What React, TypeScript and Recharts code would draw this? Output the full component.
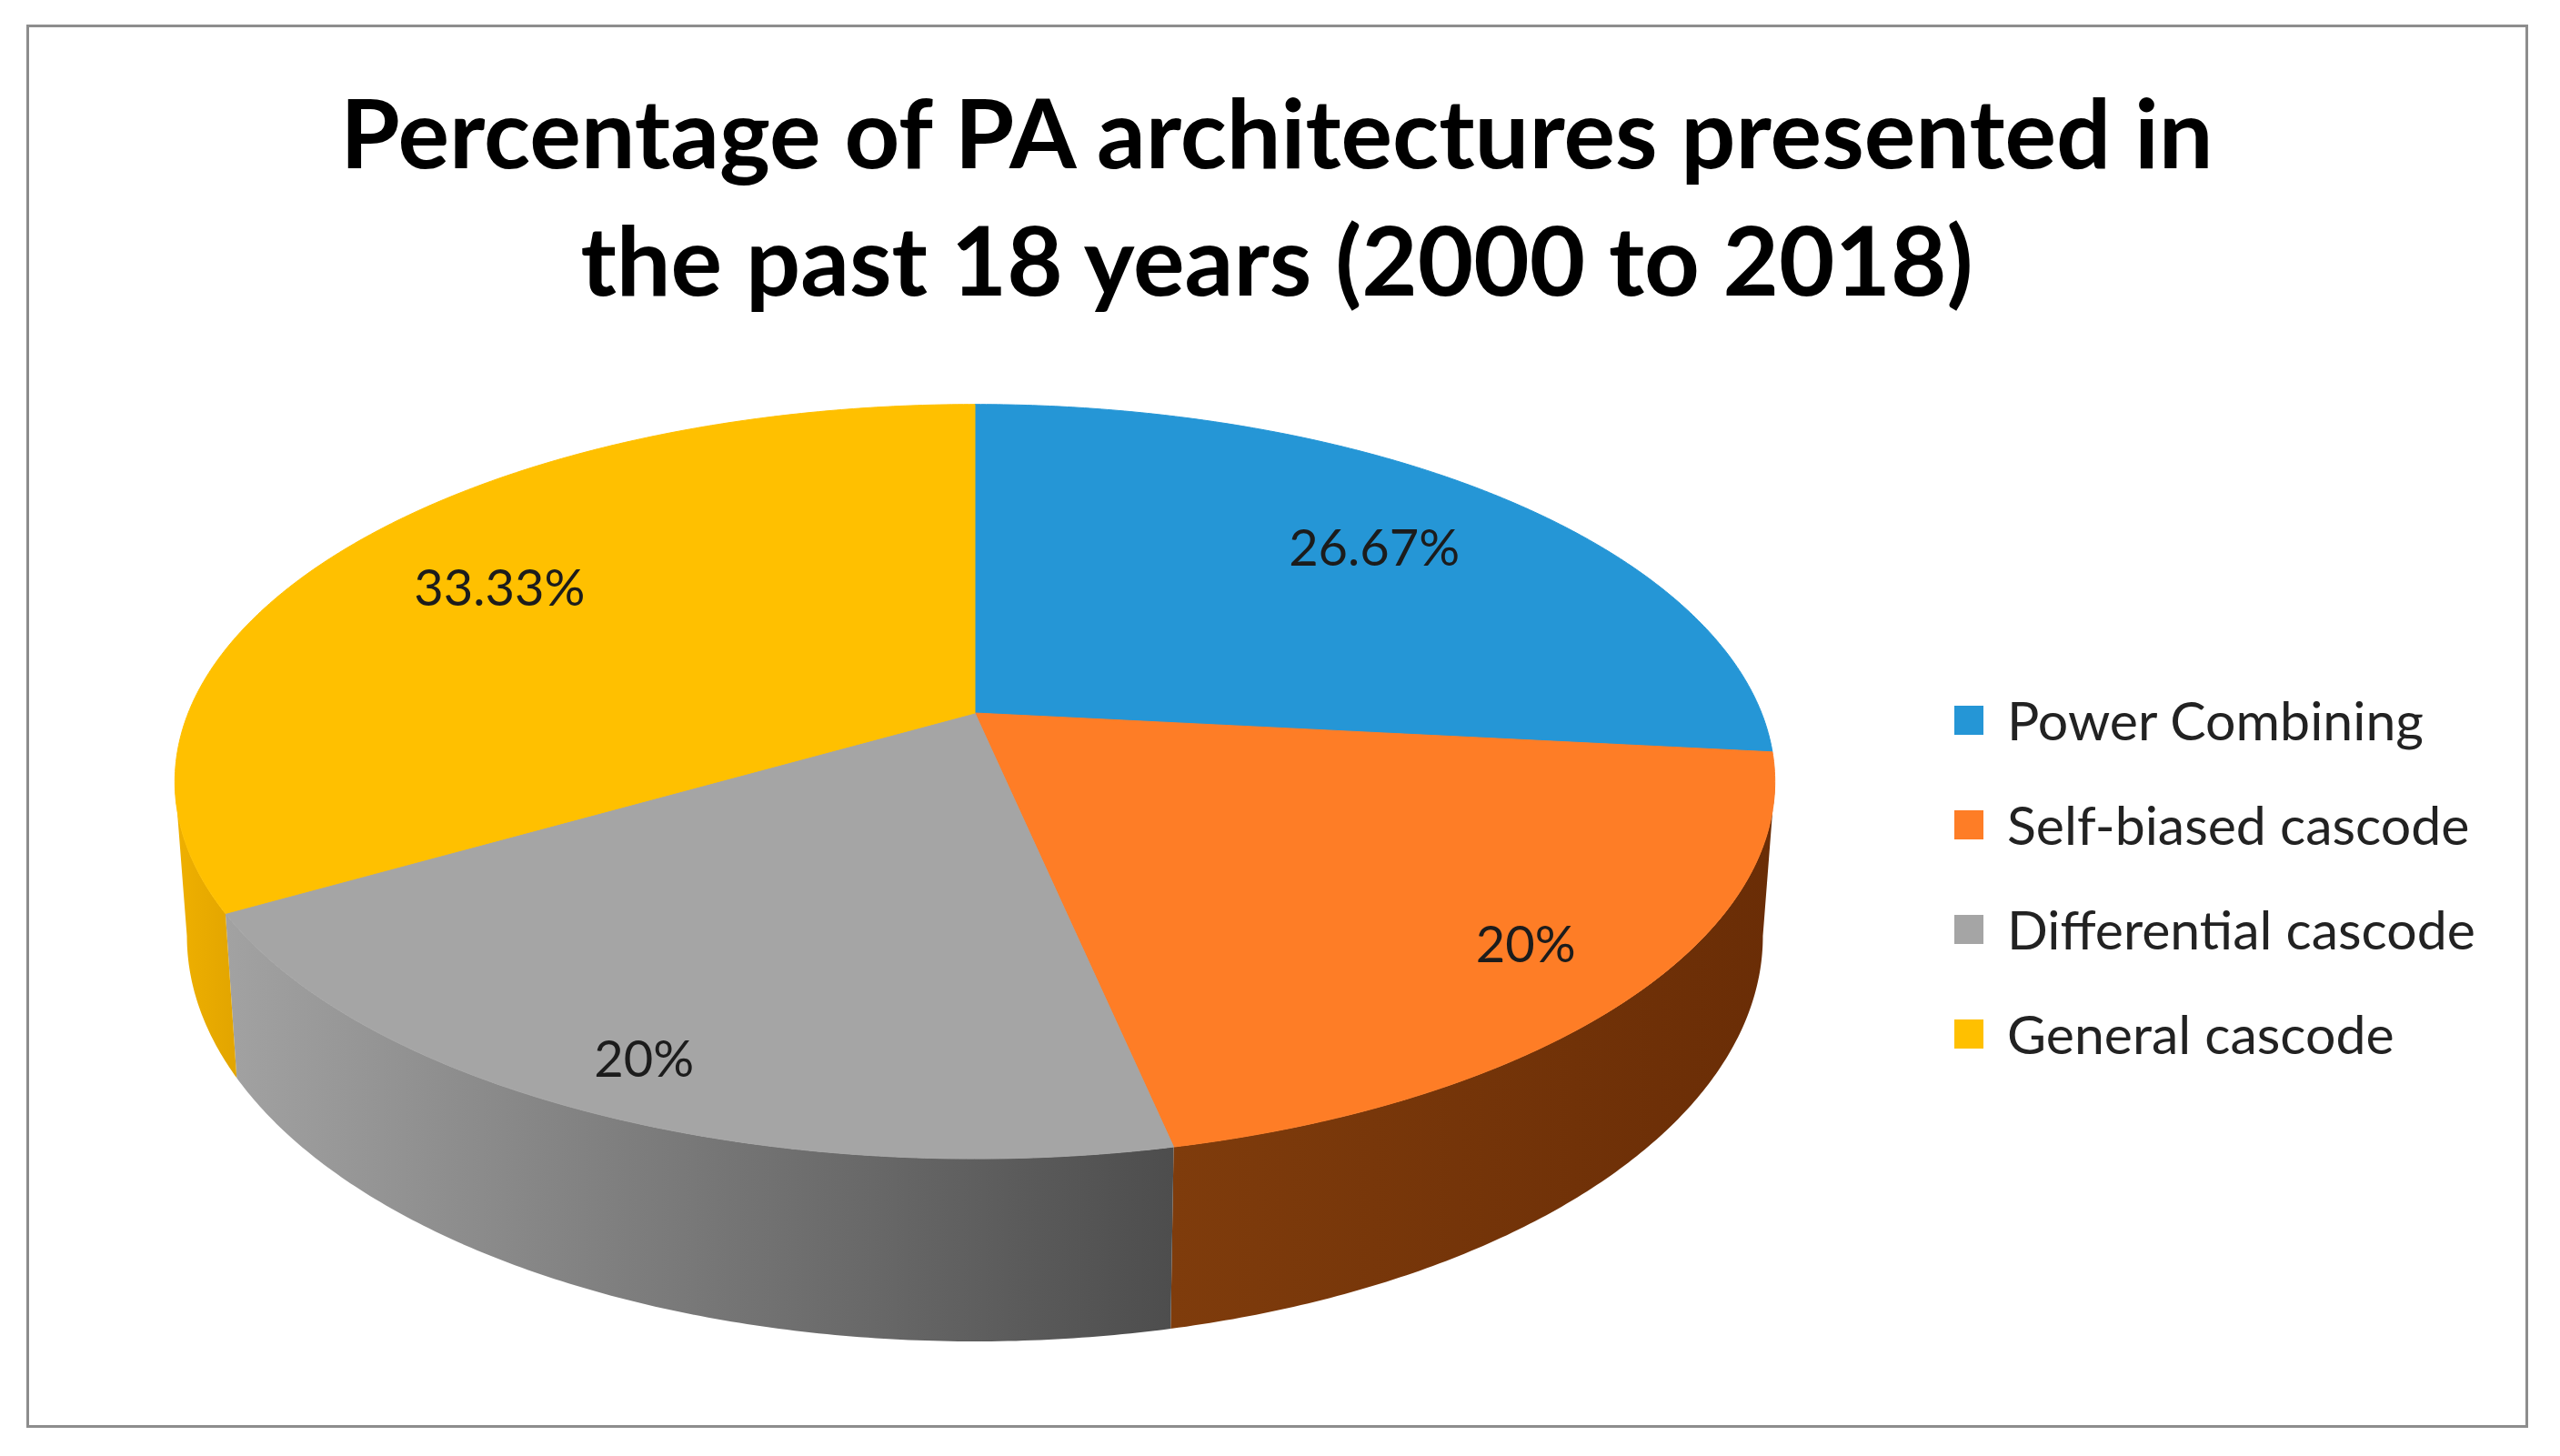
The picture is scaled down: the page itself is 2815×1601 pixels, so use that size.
import { PieChart, Pie, Cell, Legend } from "recharts"

// Excel-style 3D pie (perspective), values as printed on the slices.
const categories = [
  "Power Combining",
  "Self-biased cascode",
  "Differential cascode",
  "General cascode",
]
const shares = [26.67, 20, 20, 33.33]

const TOP_COLORS = ["#2596d6", "#fe7d26", "#a5a5a5", "#ffc000"]
// side walls: [left stop, right stop]
const SIDE_COLORS = [
  ["#1d6f9e", "#175a82"],
  ["#7f3c0c", "#6a2d06"],
  ["#a2a2a2", "#4d4d4d"],
  ["#efb000", "#e2a500"],
]

const TITLE = [
  "Percentage of PA architectures presented in",
  "the past 18 years (2000 to 2018)",
]

const data = categories.map((name, i) => ({ name, value: shares[i] }))

const W = 2815
const H = 1601
const CX = 1072
const CY = 784
const R = 865

// projection of the tilted disc
const TILT = 0.4636
const PERSP = 0.1818
const DEPTH = 0.19
const SHRINK = 0.985
const RAD = Math.PI / 180

function proj(cx: number, cy: number, radius: number, frac: number, deg: number) {
  const u = frac * Math.cos(deg * RAD)
  const v = -frac * Math.sin(deg * RAD)
  const w = 1 - PERSP * v
  return { x: cx + (radius * u) / w, y: cy + (radius * TILT * v) / w, w }
}

function arcPts(cx: number, cy: number, radius: number, a0: number, a1: number) {
  const n = Math.max(2, Math.ceil(Math.abs(a1 - a0) * 2))
  const pts = []
  for (let i = 0; i <= n; i++) pts.push(proj(cx, cy, radius, 1, a0 + ((a1 - a0) * i) / n))
  return pts
}

function TopFace(props: any) {
  const { cx, cy, outerRadius, startAngle, endAngle, fill } = props
  const pts = arcPts(cx, cy, outerRadius, startAngle, endAngle)
  const d = `M${cx},${cy}` + pts.map((p) => `L${p.x},${p.y}`).join("") + "Z"
  return <path d={d} fill={fill} stroke={fill} strokeWidth={1} />
}

// silhouette of the disc: only this angular range shows its side
const VIS_HI = -Math.asin(PERSP) / RAD
const VIS_LO = -180 - VIS_HI

function SideWall(props: any) {
  const { cx, cy, outerRadius, startAngle, endAngle, index } = props
  const hi = Math.min(Math.max(startAngle, endAngle), VIS_HI)
  const lo = Math.max(Math.min(startAngle, endAngle), VIS_LO)
  if (hi <= lo) return <g />
  const top = arcPts(cx, cy, outerRadius, hi, lo)
  const bottom = top
    .map((p) => ({ x: cx + (p.x - cx) * SHRINK, y: p.y + (outerRadius * DEPTH) / p.w }))
    .reverse()
  const d =
    top.map((p, i) => `${i ? "L" : "M"}${p.x},${p.y}`).join("") +
    bottom.map((p) => `L${p.x},${p.y}`).join("") +
    "Z"
  const id = `side-grad-${index}`
  const [c0, c1] = SIDE_COLORS[index % SIDE_COLORS.length]
  return (
    <g>
      <defs>
        <linearGradient id={id} x1="0" y1="0" x2="1" y2="0">
          <stop offset="0%" stopColor={c0} />
          <stop offset="100%" stopColor={c1} />
        </linearGradient>
      </defs>
      <path d={d} fill={`url(#${id})`} stroke="none" />
    </g>
  )
}

function renderLabel(props: any) {
  const { cx, cy, outerRadius, midAngle, value } = props
  const front = Math.max(0, -Math.sin(midAngle * RAD))
  const p = proj(cx, cy, outerRadius, 0.745 + 0.15 * front, midAngle)
  return (
    <text
      x={p.x}
      y={p.y}
      textAnchor="middle"
      dominantBaseline="central"
      fontFamily="Lato, 'Noto Sans', sans-serif"
      fontSize={56}
      fill="#1c1c1c"
    >
      {`${value}%`}
    </text>
  )
}

function LegendList({ payload }: any) {
  // both pies feed the legend; keep one row per category, in data order
  const rows = categories
    .map((name) => (payload ?? []).find((e: any) => e.value === name))
    .filter(Boolean)
  return (
    <div style={{ fontFamily: "Lato, 'Noto Sans', sans-serif", fontSize: 59, color: "#222" }}>
      {rows.map((entry: any) => (
        <div key={entry.value} style={{ height: 115, display: "flex", alignItems: "center" }}>
          <span
            style={{
              width: 32,
              height: 32,
              background: entry.color,
              display: "inline-block",
              marginRight: 26,
              flex: "none",
            }}
          />
          <span style={{ whiteSpace: "nowrap" }}>{entry.value}</span>
        </div>
      ))}
    </div>
  )
}

export default function App() {
  return (
    <div
      style={{
        position: "absolute",
        left: 0,
        top: 0,
        width: W,
        height: H,
        background: "#fff",
      }}
    >
      <div
        style={{
          position: "absolute",
          left: 29,
          top: 27,
          width: 2745,
          height: 1537,
          border: "3px solid #8d8d8d",
        }}
      />
      <svg
        width={W}
        height={400}
        style={{ position: "absolute", left: 0, top: 0 }}
      >
        {TITLE.map((line, i) => (
          <text
            key={line}
            x={1404}
            y={185 + i * 140}
            textAnchor="middle"
            fontFamily="Lato, 'Noto Sans', sans-serif"
            fontWeight={700}
            fontSize={106}
            fill="#000"
          >
            {line}
          </text>
        ))}
      </svg>
      <div style={{ position: "absolute", left: 0, top: 0 }}>
        <PieChart width={W} height={H} margin={{ top: 0, right: 0, bottom: 0, left: 0 }}>
          <Pie
            data={data}
            dataKey="value"
            nameKey="name"
            cx={CX}
            cy={CY}
            outerRadius={R}
            startAngle={90}
            endAngle={-270}
            legendType="none"
            shape={SideWall}
            isAnimationActive={false}
          >
            {data.map((d, i) => (
              <Cell key={d.name} fill={TOP_COLORS[i]} />
            ))}
          </Pie>
          <Pie
            data={data}
            dataKey="value"
            nameKey="name"
            cx={CX}
            cy={CY}
            outerRadius={R}
            startAngle={90}
            endAngle={-270}
            shape={TopFace}
            label={renderLabel}
            labelLine={false}
            isAnimationActive={false}
          >
            {data.map((d, i) => (
              <Cell key={d.name} fill={TOP_COLORS[i]} />
            ))}
          </Pie>
          <Legend
            content={<LegendList />}
            wrapperStyle={{ position: "absolute", left: 2149, top: 734, width: 640 }}
          />
        </PieChart>
      </div>
    </div>
  )
}
